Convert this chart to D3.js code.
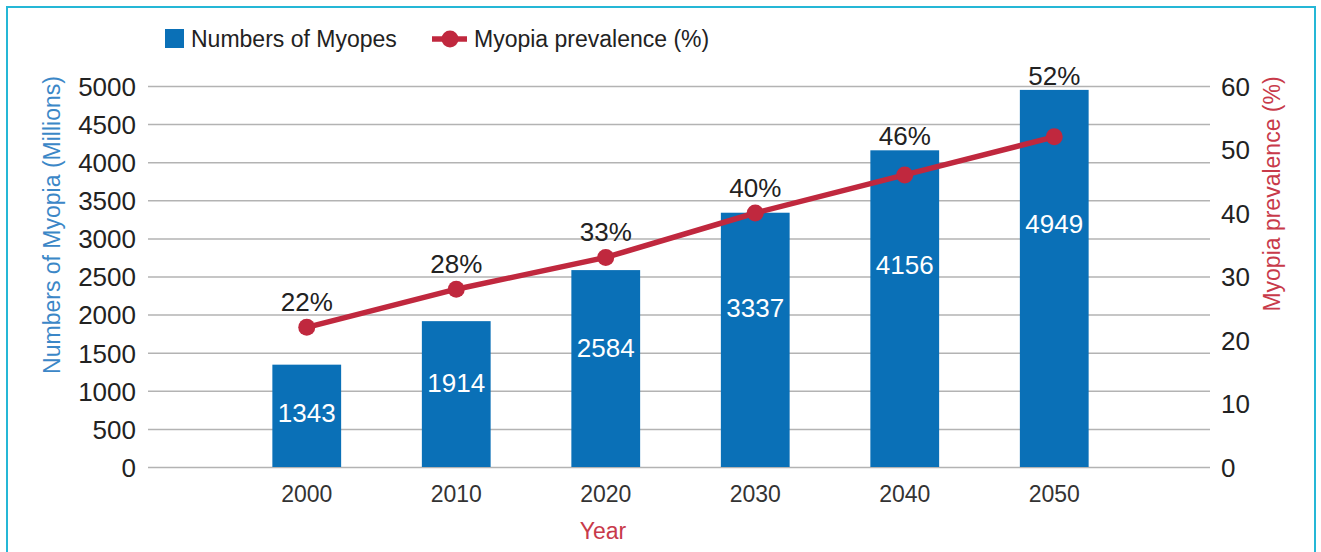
<!DOCTYPE html>
<html>
<head>
<meta charset="utf-8">
<script src="https://d3js.org/d3.v7.min.js"></script>
<style>
  body { margin: 0; background: #fff; }
  svg text { font-family: "Liberation Sans", Arial, Helvetica, sans-serif; }
</style>
</head>
<body>
<div id="chart"></div>
<script>
// chart data
var years = ['2000', '2010', '2020', '2030', '2040', '2050'];
var myopes = [1343, 1914, 2584, 3337, 4156, 4949];
var prevalence = [22, 28, 33, 40, 46, 52];
var leftTicks = [0, 500, 1000, 1500, 2000, 2500, 3000, 3500, 4000, 4500, 5000];
var rightTicks = [0, 10, 20, 30, 40, 50, 60];

var width = 1321;
var height = 552;
var barColor = '#0a70b7';
var lineColor = '#c0283e';

var svg = d3.select('#chart').append('svg')
    .attr('width', width)
    .attr('height', height);

// frame
svg.append('rect')
    .attr('x', 7)
    .attr('y', 7)
    .attr('width', 1308)
    .attr('height', 560)
    .attr('fill', 'none')
    .attr('stroke', '#25b7d6')
    .attr('stroke-width', 2);

var plotLeft = 148, plotRight = 1210, plotTop = 86, plotBottom = 467;

var x = d3.scaleBand()
    .domain(years)
    .range([232, 1129])
    .paddingInner(0.54)
    .paddingOuter(0.27);

var yL = d3.scaleLinear().domain([0, 5000]).range([plotBottom, plotTop]);
var yR = d3.scaleLinear().domain([0, 60]).range([plotBottom, plotTop]);

// left axis + gridlines
var leftAxis = d3.axisLeft(yL)
    .tickValues(leftTicks)
    .tickFormat(d3.format('d'))
    .tickSizeInner(-(plotRight - plotLeft))
    .tickSizeOuter(0)
    .tickPadding(12);

var gl = svg.append('g')
    .attr('transform', 'translate(' + plotLeft + ',0)')
    .call(leftAxis);
gl.select('.domain').remove();
gl.selectAll('.tick line').attr('stroke', '#b3b3b3').attr('stroke-width', 1.5);
gl.selectAll('.tick text')
    .attr('fill', '#222')
    .style('font-size', '26px')
    .attr('dy', '0.36em');

// right axis
var rightAxis = d3.axisRight(yR)
    .tickValues(rightTicks)
    .tickSize(0)
    .tickPadding(11);

var gr = svg.append('g')
    .attr('transform', 'translate(' + plotRight + ',0)')
    .call(rightAxis);
gr.select('.domain').remove();
gr.selectAll('.tick text')
    .attr('fill', '#222')
    .style('font-size', '26px')
    .attr('dy', '0.36em');

// bottom axis
var bottomAxis = d3.axisBottom(x).tickSize(0).tickPadding(19);
var gb = svg.append('g')
    .attr('transform', 'translate(0,' + plotBottom + ')')
    .call(bottomAxis);
gb.select('.domain').remove();
gb.selectAll('.tick text')
    .attr('fill', '#333')
    .style('font-size', '23px');

// bars
svg.selectAll('rect.bar')
    .data(myopes)
    .enter()
    .append('rect')
    .attr('class', 'bar')
    .attr('x', function(d, i) { return x(years[i]); })
    .attr('y', function(d) { return yL(d); })
    .attr('width', x.bandwidth())
    .attr('height', function(d) { return plotBottom - yL(d); })
    .attr('fill', barColor);

// value labels inside bars
svg.selectAll('text.bar-label')
    .data(myopes)
    .enter()
    .append('text')
    .attr('class', 'bar-label')
    .attr('x', function(d, i) { return x(years[i]) + x.bandwidth() / 2; })
    .attr('y', function(d) { return yL(d * 0.69 - 215); })
    .attr('dy', '0.36em')
    .attr('text-anchor', 'middle')
    .attr('fill', '#fff')
    .style('font-size', '26px')
    .text(function(d) { return d; });

// prevalence line
var line = d3.line()
    .x(function(d, i) { return x(years[i]) + x.bandwidth() / 2; })
    .y(function(d) { return yR(d); });

svg.append('path')
    .datum(prevalence)
    .attr('d', line)
    .attr('fill', 'none')
    .attr('stroke', lineColor)
    .attr('stroke-width', 5.5);

svg.selectAll('circle.point')
    .data(prevalence)
    .enter()
    .append('circle')
    .attr('class', 'point')
    .attr('cx', function(d, i) { return x(years[i]) + x.bandwidth() / 2; })
    .attr('cy', function(d) { return yR(d); })
    .attr('r', 8.5)
    .attr('fill', lineColor);

// percent labels, above the point or just above the bar top, whichever is higher
svg.selectAll('text.pct-label')
    .data(prevalence)
    .enter()
    .append('text')
    .attr('class', 'pct-label')
    .attr('x', function(d, i) { return x(years[i]) + x.bandwidth() / 2; })
    .attr('y', function(d, i) { return Math.min(yR(d) - 16, yL(myopes[i]) - 5); })
    .attr('text-anchor', 'middle')
    .attr('fill', '#222')
    .style('font-size', '26px')
    .text(function(d) { return d + '%'; });

// axis titles
svg.append('text')
    .attr('transform', 'translate(52,225) rotate(-90)')
    .attr('dy', '0.36em')
    .attr('text-anchor', 'middle')
    .attr('fill', '#3b87c7')
    .style('font-size', '23px')
    .text('Numbers of Myopia (Millions)');

svg.append('text')
    .attr('transform', 'translate(1272,194) rotate(-90)')
    .attr('dy', '0.36em')
    .attr('text-anchor', 'middle')
    .attr('fill', '#c83a4a')
    .style('font-size', '23px')
    .text('Myopia prevalence (%)');

svg.append('text')
    .attr('x', 603)
    .attr('y', 531)
    .attr('dy', '0.36em')
    .attr('text-anchor', 'middle')
    .attr('fill', '#c83a4a')
    .style('font-size', '23px')
    .text('Year');

// legend
var legend = svg.append('g');
legend.append('rect')
    .attr('x', 165)
    .attr('y', 29)
    .attr('width', 19)
    .attr('height', 19)
    .attr('fill', barColor);
legend.append('text')
    .attr('x', 191)
    .attr('y', 39)
    .attr('dy', '0.36em')
    .attr('fill', '#222')
    .style('font-size', '23px')
    .text('Numbers of Myopes');
legend.append('line')
    .attr('x1', 432).attr('x2', 467)
    .attr('y1', 39).attr('y2', 39)
    .attr('stroke', lineColor)
    .attr('stroke-width', 5.5);
legend.append('circle')
    .attr('cx', 450)
    .attr('cy', 39)
    .attr('r', 8.5)
    .attr('fill', lineColor);
legend.append('text')
    .attr('x', 474)
    .attr('y', 39)
    .attr('dy', '0.36em')
    .attr('fill', '#222')
    .style('font-size', '23px')
    .text('Myopia prevalence (%)');
</script>
</body>
</html>
